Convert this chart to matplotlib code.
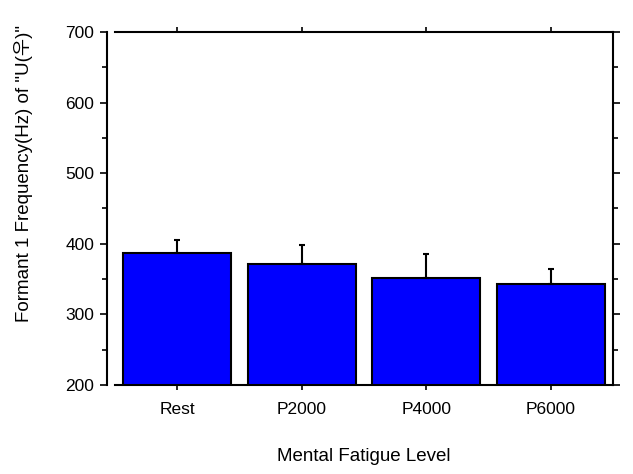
import matplotlib.pyplot as plt
from matplotlib.ticker import MultipleLocator

# Data
levels = ["Rest", "P2000", "P4000", "P6000"]
formant1 = [387, 372, 351, 343]
formant1_err = [18, 26, 34, 21]

plt.rcParams["font.family"] = ["Liberation Sans", "Noto Sans CJK KR", "DejaVu Sans"]

fig = plt.figure(figsize=(6.33, 4.74), dpi=100)
ax = fig.add_axes([0.1817, 0.1878, 0.7867, 0.7447])

x = range(len(levels))
ax.bar(x, formant1, width=0.87, bottom=0, color="#0000ff", edgecolor="black",
       linewidth=1.5, zorder=2)
ax.errorbar(x, formant1, yerr=[[0] * len(levels), formant1_err], fmt="none",
            ecolor="black", elinewidth=1.5, capsize=2.5, capthick=1.5, zorder=3)

ax.set_xlim(-0.5, 3.5)
ax.set_ylim(200, 700)
ax.set_xticks(list(x))
ax.set_xticklabels(levels, fontsize=12.5)
ax.yaxis.set_major_locator(MultipleLocator(100))
ax.yaxis.set_minor_locator(MultipleLocator(50))
ax.tick_params(axis="y", labelsize=12.5, pad=4)

# Ticks on all four sides, pointing outward
ax.tick_params(which="both", direction="out", width=1.2, top=True, right=True)
ax.tick_params(which="major", length=5)
ax.tick_params(which="minor", length=3.5)
ax.tick_params(axis="x", which="major", length=3.5, pad=9)

for side in ["top", "bottom", "left", "right"]:
    ax.spines[side].set_linewidth(1.5)
ax.spines["left"].set_position(("outward", 6))

ax.set_xlabel("Mental Fatigue Level", fontsize=13.5, labelpad=22)
ax.set_ylabel('Formant 1 Frequency(Hz) of "U(우)"', fontsize=13.5, labelpad=14)
ax.yaxis.set_label_coords(-0.165, 0.60)

plt.savefig("out.png", dpi=100)
